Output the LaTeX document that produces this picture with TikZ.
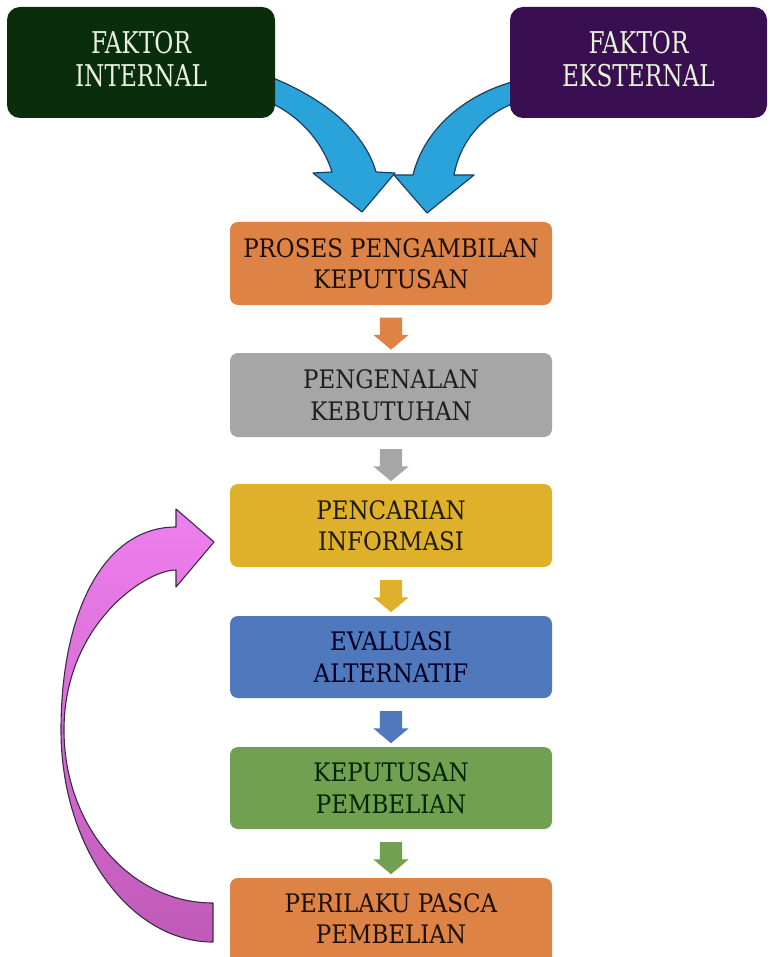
\documentclass[tikz,border=0pt]{standalone}
\usepackage{fontspec}
\setmainfont{DejaVu Serif Condensed}
\newfontfamily\condfont[FakeStretch=0.86]{DejaVu Serif Condensed}
\usetikzlibrary{shapes.arrows,calc}
\definecolor{cOrange}{HTML}{DE8346}
\definecolor{cGray}{HTML}{A6A6A6}
\definecolor{cGold}{HTML}{DFB12A}
\definecolor{cBlue}{HTML}{5078BC}
\definecolor{cGreen}{HTML}{70A050}
\definecolor{cIntern}{HTML}{0A2E0C}
\definecolor{cExtern}{HTML}{3A0F52}
\definecolor{cCream}{HTML}{E8F2DC}
\definecolor{cSky}{HTML}{2AA3DA}
\definecolor{cNavy}{HTML}{1D3E5E}
\definecolor{cPinkA}{HTML}{EE80EE}
\definecolor{cPinkB}{HTML}{C05AB8}
\definecolor{cPinkLine}{HTML}{3B2B48}
\tikzset{
  mainbox/.style={rounded corners=8pt, minimum width=322pt, inner sep=0pt,
    align=center, font=\fontsize{25.5}{31.5}\selectfont},
  topbox/.style={rounded corners=13pt, inner sep=0pt, align=center,
    text=cCream, font=\condfont\fontsize{30}{33}\selectfont},
  downarrow/.style={single arrow, shape border rotate=270, draw=none,
    minimum height=32pt, minimum width=35pt, single arrow head extend=6.5pt,
    single arrow tip angle=100, inner sep=11pt},
  bluearrow/.style={fill=cSky, draw=cNavy, line width=1.2pt, line join=round},
  pinkarrow/.style={top color=cPinkA, bottom color=cPinkB, draw=cPinkLine, line width=1.1pt, line join=round}
}
\begin{document}
\begin{tikzpicture}[x=1pt,y=-1pt]
\useasboundingbox (0,0) rectangle (769,957);
\fill[white] (0,0) rectangle (769,957);

% curved blue arrows (drawn before the boxes)
\draw[bluearrow] (273,78) .. controls (322,98) and (364,130) .. (376,172)
  -- (395,173) -- (362,212) -- (313,173) -- (332,172)
  .. controls (322,140) and (298,116) .. (273,104) -- cycle;
\draw[bluearrow] (512,82) .. controls (463,96) and (424,130) .. (413,175)
  -- (394,175) -- (427,213) -- (474,175) -- (454,175)
  .. controls (460,142) and (482,116) .. (512,104) -- cycle;

% top boxes
\node[topbox, fill=cIntern, minimum width=268pt, minimum height=111pt] (int) at (141,62.5) {FAKTOR\\INTERNAL\rule[-7pt]{0pt}{0pt}};
\node[topbox, fill=cExtern, minimum width=257pt, minimum height=111pt] (ext) at (638.5,62.5) {FAKTOR\\EKSTERNAL\rule[-7pt]{0pt}{0pt}};

% main column
\node[mainbox, fill=cOrange, text=black!80!cOrange!60!black, minimum height=83pt] (b1) at (391,263.5) {PROSES PENGAMBILAN\\KEPUTUSAN};
\node[mainbox, fill=cGray, text=black!88, minimum height=84pt] (b2) at (391,395) {PENGENALAN\\KEBUTUHAN};
\node[mainbox, fill=cGold, text=black!85!cGold, minimum height=83pt] (b3) at (391,525.5) {PENCARIAN\\INFORMASI};
\node[mainbox, fill=cBlue, text=black!80!blue!70!black, minimum height=82pt] (b4) at (391,657) {EVALUASI\\ALTERNATIF};
\node[mainbox, fill=cGreen, text=black!85!green, minimum height=82pt] (b5) at (391,788) {KEPUTUSAN\\PEMBELIAN};
\node[mainbox, fill=cOrange, text=black!80!cOrange!60!black, minimum height=87pt] (b6) at (391,921.5) {PERILAKU PASCA\\PEMBELIAN\rule[-6pt]{0pt}{0pt}};

% small block arrows between boxes
\node[downarrow, fill=cOrange] (a1) at ($(b1.south)!0.5!(b2.north)$) {};
\node[downarrow, fill=cGray]   (a2) at ($(b2.south)!0.5!(b3.north)$) {};
\node[downarrow, fill=cGold]   (a3) at ($(b3.south)!0.5!(b4.north)$) {};
\node[downarrow, fill=cBlue]   (a4) at ($(b4.south)!0.5!(b5.north)$) {};
\node[downarrow, fill=cGreen]  (a5) at ($(b5.south)!0.5!(b6.north)$) {};

% pink feedback arrow
\draw[pinkarrow] (213,903) .. controls (130,903) and (64,826) .. (64,730)
  .. controls (64,625) and (145,570) .. (176,570)
  -- (176,587) -- (214,542) -- (176,509) -- (176,527)
  .. controls (105,527) and (61,610) .. (61,730)
  .. controls (61,847) and (130,942) .. (213,942) -- cycle;
\end{tikzpicture}
\end{document}
